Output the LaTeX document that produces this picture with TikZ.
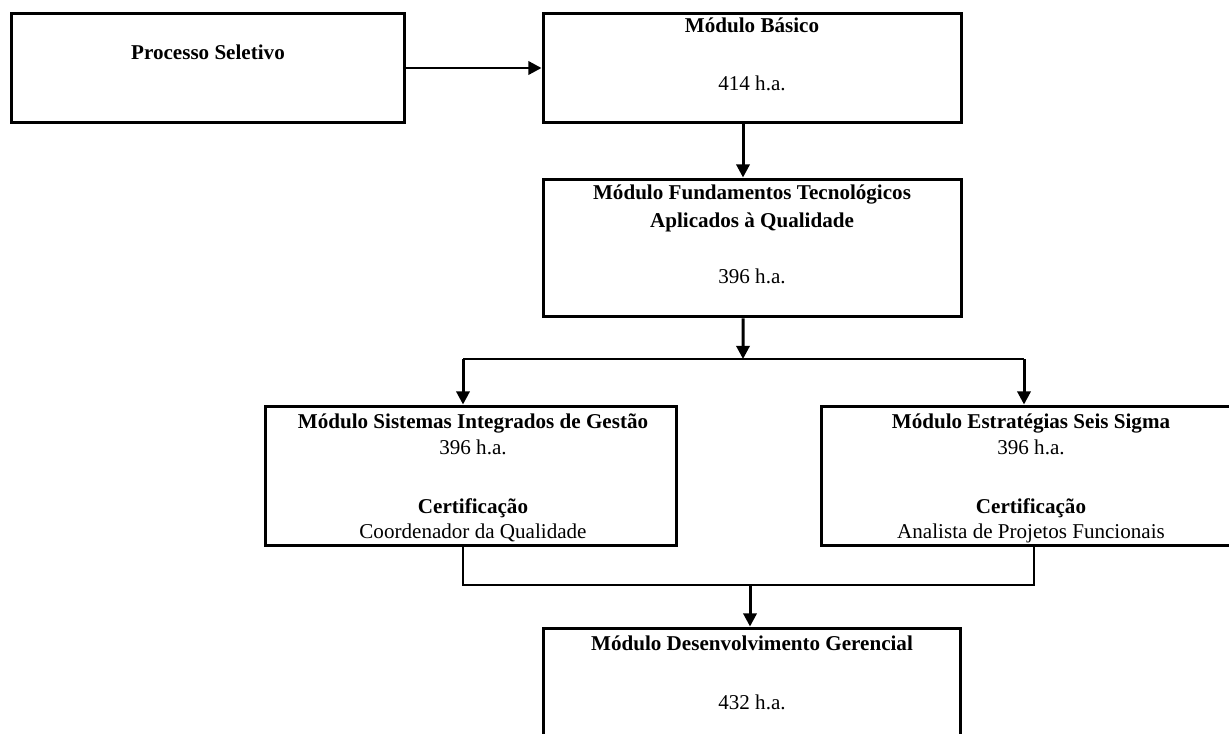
\documentclass[tikz,border=0pt]{standalone}
\usepackage{fontspec}
\setmainfont{Liberation Serif}
\usetikzlibrary{arrows.meta, positioning, calc}

\begin{document}
\begin{tikzpicture}[x=0.02cm, y=-0.02cm,
    modbox/.style={draw, line width=1.7pt, inner sep=0pt},
    arr/.style={line width=1.7pt, -{Triangle[length=7.5pt, width=7.5pt]}},
    link/.style={line width=0.85pt},
    ttl/.style={font=\fontsize{12}{14}\selectfont\bfseries, inner sep=0pt},
    hrs/.style={font=\fontsize{12}{14}\selectfont, inner sep=0pt}]
    \useasboundingbox (0,0) rectangle (1229,733);
    \clip (0,0) rectangle (1229,733);

    % Boxes
    \node (A) [modbox, minimum width=7.88cm, minimum height=2.2cm] at (208,68) {};
    \node (B) [modbox, minimum width=8.38cm, minimum height=2.2cm] at (752.5,68) {};
    \node (C) [modbox, minimum width=8.38cm, minimum height=2.76cm] at (752.5,248) {};
    \node (D) [modbox, minimum width=8.24cm, minimum height=2.8cm] at (471,476) {};
    \node (E) [modbox, minimum width=8.4cm, minimum height=2.8cm] at (1031,476) {};
    \node (F) [modbox, minimum width=8.36cm, minimum height=3.2cm] at (752,708) {};

    % Texts
    \node (At) [ttl] at (208,52) {Processo Seletivo};
    \node (Bt) [ttl] at (752,25) {Módulo Básico};
    \node (Bh) [hrs] at (752,83) {414 h.a.};
    \node (Ct1) [ttl] at (752,195) {Módulo Fundamentos Tecnológicos};
    \node (Ct2) [ttl] at (752,222) {Aplicados à Qualidade};
    \node (Ch) [hrs] at (752,276) {396 h.a.};
    \node (Dt) [ttl] at (473,423) {Módulo Sistemas Integrados de Gestão};
    \node (Dh) [hrs] at (473,447) {396 h.a.};
    \node (Dc) [ttl] at (473,508) {Certificação};
    \node (Dp) [hrs] at (473,533) {Coordenador da Qualidade};
    \node (Et) [ttl] at (1031,423) {Módulo Estratégias Seis Sigma};
    \node (Eh) [hrs] at (1031,447) {396 h.a.};
    \node (Ec) [ttl] at (1031,508) {Certificação};
    \node (Ep) [hrs] at (1031,533) {Analista de Projetos Funcionais};
    \node (Ft) [ttl] at (752,643) {Módulo Desenvolvimento Gerencial};
    \node (Fh) [hrs] at (752,702) {432 h.a.};

    % Arrows
    \draw[arr] (A) -- (B);
    \draw[arr] ([xshift=-0.19cm]B.south) -- ([xshift=-0.19cm]C.north);
    \coordinate (split) at (743,359);
    \coordinate (splitL) at (463,359);
    \coordinate (splitR) at (1024,359);
    \draw[arr] ([xshift=-0.19cm]C.south) -- (split);
    \draw[link] (splitL) -- (splitR);
    \draw[arr] (splitL) -- (splitL |- D.north);
    \draw[arr] (splitR) -- (splitR |- E.north);
    \coordinate (joinL) at (463,585);
    \coordinate (joinR) at (1034,585);
    \coordinate (join) at (750,585);
    \draw[link] (joinL |- D.south) -- (joinL) -- (joinR) -- (joinR |- E.south);
    \draw[arr] (join) -- (join |- F.north);
\end{tikzpicture}
\end{document}
